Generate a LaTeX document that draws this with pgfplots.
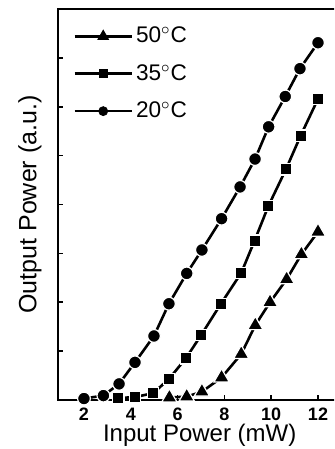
\documentclass[border=0pt]{standalone}
\usepackage{pgfplots}
\pgfplotsset{compat=1.18}
\usepackage{fontspec}
\setmainfont{Liberation Sans}
\begin{document}
\begin{tikzpicture}
\useasboundingbox (-29pt,-24.5pt) rectangle (138pt,200pt);
\clip (-29pt,-24.5pt) rectangle (138pt,200pt);
\begin{axis}[
  at={(0,0)}, anchor=south west,
  scale only axis, width=141.7pt, height=195.5pt,
  xmin=0.89, xmax=13, ymin=0, ymax=8,
  xtick={2,4,6,8,10,12},
  ytick={0,1,2,3,4,5,6,7,8}, yticklabels={},
  tick pos=left, tick align=inside,
  major tick length=2.5pt,
  axis line style={line width=1pt},
  every tick/.style={line width=0.8pt, black},
  /pgf/number format/assume math mode=true,
  xticklabel style={font=\bfseries\fontsize{9}{10}\selectfont, anchor=base, yshift=-10pt, inner sep=0pt},
  xlabel={Input Power (mW)},
  xlabel style={font=\fontsize{12}{14}\selectfont, at={(axis description cs:0.5,0)}, anchor=base, yshift=-20.5pt, inner sep=0pt},
  ylabel={Output Power (a.u.)},
  ylabel style={font=\fontsize{12.5}{14}\selectfont, at={(axis description cs:-0.0565,0.5)}, rotate=0, anchor=south, inner sep=0pt},
  legend style={draw=none, fill=none, at={(axis description cs:0.053,0.955)}, anchor=north west,
    font=\fontsize{11.3}{13}\selectfont, row sep=9.3pt, inner sep=0pt,
    nodes={inner xsep=1.5pt, inner ysep=0pt}},
  legend cell align=left,
  legend image code/.code={\draw[mark repeat=2, mark phase=2, mark options={scale=0.7, draw=black, line width=0.4pt}] plot coordinates {(0pt,0pt) (14.25pt,0pt) (28.5pt,0pt)};},
]
\addplot[black, line width=1.3pt, mark=triangle*, mark size=4.4pt, mark options={solid, fill=black, draw=white, line width=0.6pt}] coordinates {
(5.65,0.05) (6.39,0.07) (7.04,0.17) (7.88,0.46) (8.72,0.94) (9.32,1.53) (9.95,2.0) (10.66,2.47) (11.29,2.98) (12,3.44)};
\addlegendentry{50$^\circ$C}
\addplot[black, line width=1.3pt, mark=square*, mark size=2.8pt, mark options={solid, fill=black, draw=white, line width=0.6pt}] coordinates {
(3.47,0.04) (4.18,0.06) (4.96,0.14) (5.63,0.43) (6.35,0.85) (7.01,1.33) (7.84,1.96) (8.72,2.6) (9.29,3.26) (9.88,3.97) (10.63,4.72) (11.26,5.41) (12,6.16)};
\addlegendentry{35$^\circ$C}
\addplot[black, line width=1.3pt, mark=*, mark size=3.2pt, mark options={solid, fill=black, draw=white, line width=0.6pt}] coordinates {
(2,0.03) (2.83,0.09) (3.5,0.33) (4.18,0.77) (4.99,1.31) (5.63,1.97) (6.39,2.59) (7.04,3.07) (7.88,3.71) (8.67,4.36) (9.31,4.93) (9.89,5.59) (10.6,6.21) (11.23,6.78) (12,7.31)};
\addlegendentry{20$^\circ$C}
\end{axis}
\end{tikzpicture}
\end{document}
